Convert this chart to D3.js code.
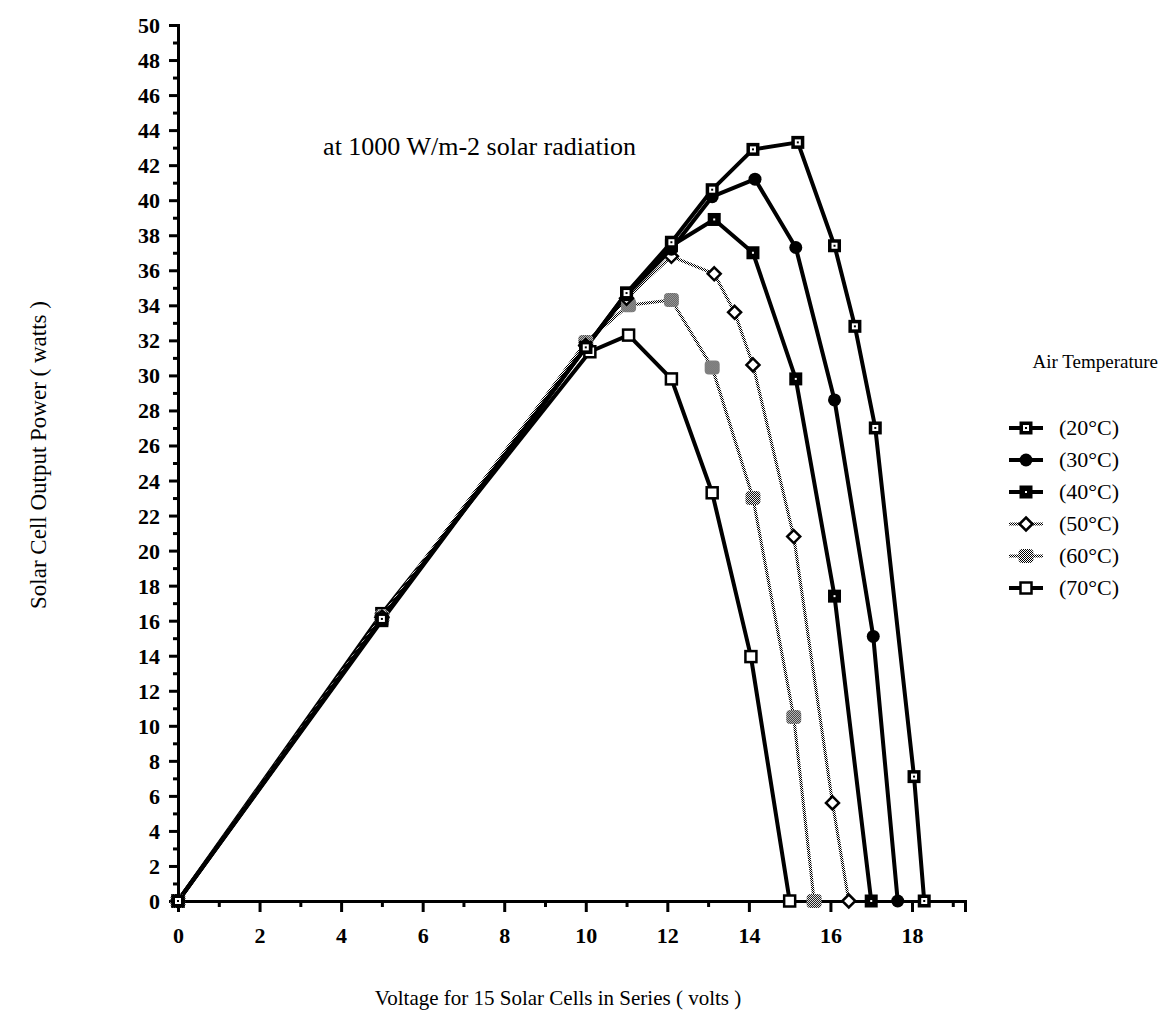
<!DOCTYPE html>
<html>
<head>
<meta charset="utf-8">
<script src="https://cdn.jsdelivr.net/npm/d3@7"></script>
<style>
  body { margin: 0; background: #fff; }
  text { font-family: "Liberation Serif", "DejaVu Serif", serif; fill: #000; }
</style>
</head>
<body>
<div id="chart"></div>
<script>
'use strict';

// readings (volts, watts)
var volts20 = [0, 5, 10, 11, 12.1, 13.1, 14.1, 15.2, 16.1, 16.6, 17.1, 18.05, 18.3];
var watts20 = [0, 16.1, 31.6, 34.7, 37.6, 40.6, 42.9, 43.3, 37.4, 32.8, 27.0, 7.1, 0];
var volts30 = [0, 5, 10, 11, 12.1, 13.1, 14.15, 15.15, 16.1, 17.05, 17.65];
var watts30 = [0, 16.1, 31.6, 34.6, 37.2, 40.2, 41.2, 37.3, 28.6, 15.1, 0];
var volts40 = [0, 5, 10, 11, 12.1, 13.15, 14.1, 15.15, 16.1, 17.0];
var watts40 = [0, 16.0, 31.6, 34.7, 37.4, 38.9, 37.0, 29.8, 17.4, 0];
var volts50 = [0, 5, 10, 11, 12.1, 13.15, 13.65, 14.1, 15.1, 16.05, 16.45];
var watts50 = [0, 16.2, 31.7, 34.4, 36.8, 35.8, 33.6, 30.6, 20.8, 5.6, 0];
var volts60 = [0, 5, 10, 11.05, 12.1, 13.1, 14.1, 15.1, 15.6];
var watts60 = [0, 16.2, 31.9, 34.0, 34.3, 30.45, 23.0, 10.5, 0];
var volts70 = [0, 5, 10.1, 11.05, 12.1, 13.1, 14.05, 15.0];
var watts70 = [0, 16.4, 31.35, 32.3, 29.8, 23.3, 13.95, 0];

var seriesLabels = ["(20°C)", "(30°C)", "(40°C)", "(50°C)", "(60°C)", "(70°C)"];
var xTickValues = [0, 2, 4, 6, 8, 10, 12, 14, 16, 18];
var yTickValues = d3.range(0, 51, 2);

var svgWidth = 1162;
var svgHeight = 1015;

var svg = d3.select("#chart").append("svg")
    .attr("width", svgWidth)
    .attr("height", svgHeight);

// dither pattern for the grey (50/60) curves
var defs = svg.append("defs");
var pat = defs.append("pattern")
    .attr("id", "dither")
    .attr("width", 2).attr("height", 2)
    .attr("patternUnits", "userSpaceOnUse");
pat.append("rect").attr("width", 2).attr("height", 2).attr("fill", "#fff");
pat.append("rect").attr("width", 1).attr("height", 1).attr("fill", "#000");
pat.append("rect").attr("x", 1).attr("y", 1).attr("width", 1).attr("height", 1).attr("fill", "#000");

var x = d3.scaleLinear().domain([0, 19.3]).range([178, 965]);
var y = d3.scaleLinear().domain([0, 50]).range([901, 25]);

var series = [
  {label: seriesLabels[0], v: volts20, w: watts20, marker: "sqDot", grey: false},
  {label: seriesLabels[1], v: volts30, w: watts30, marker: "circle", grey: false},
  {label: seriesLabels[2], v: volts40, w: watts40, marker: "sqFill", grey: false},
  {label: seriesLabels[3], v: volts50, w: watts50, marker: "diamond", grey: true},
  {label: seriesLabels[4], v: volts60, w: watts60, marker: "hatch", grey: true},
  {label: seriesLabels[5], v: volts70, w: watts70, marker: "open", grey: false}
];

function drawMarker(g, type, cx, cy) {
  var m = g.append("g").attr("transform", "translate(" + cx + "," + cy + ")");
  if (type == "sqDot") {
    m.append("rect").attr("x", -6.5).attr("y", -6.5).attr("width", 13).attr("height", 13).attr("fill", "#000");
    m.append("rect").attr("x", -3).attr("y", -3).attr("width", 6).attr("height", 6).attr("fill", "#fff");
    m.append("rect").attr("x", -1).attr("y", -1).attr("width", 2).attr("height", 2).attr("fill", "#000");
  } else if (type == "circle") {
    m.append("circle").attr("r", 6.5).attr("fill", "#000");
  } else if (type == "sqFill") {
    m.append("rect").attr("x", -6.5).attr("y", -6.5).attr("width", 13).attr("height", 13).attr("fill", "#000");
    m.append("rect").attr("x", -1).attr("y", -1).attr("width", 2).attr("height", 2).attr("fill", "#fff");
  } else if (type == "diamond") {
    m.append("path").attr("d", "M0,-6.5L6.5,0L0,6.5L-6.5,0Z")
      .attr("fill", "#fff").attr("stroke", "#000").attr("stroke-width", 2.5);
  } else if (type == "hatch") {
    m.append("rect").attr("x", -7.5).attr("y", -7).attr("width", 15).attr("height", 14)
      .attr("rx", 4).attr("fill", "url(#dither)");
  } else {
    m.append("rect").attr("x", -5.5).attr("y", -5.5).attr("width", 11).attr("height", 11)
      .attr("fill", "#fff").attr("stroke", "#000").attr("stroke-width", 2.5);
  }
}

var line = d3.line()
    .x(function(d) { return x(d[0]); })
    .y(function(d) { return y(d[1]); });

// curves
var curves = svg.append("g");
series.slice().reverse().forEach(function(s) {
  var pts = s.v.map(function(v, i) { return [v, s.w[i]]; });
  curves.append("path")
      .datum(pts)
      .attr("fill", "none")
      .attr("stroke", s.grey ? "url(#dither)" : "#000")
      .attr("stroke-width", s.grey ? 3 : 4)
      .attr("stroke-linejoin", "round")
      .attr("d", line);
});

// axes
var xAxis = svg.append("g")
    .attr("transform", "translate(0," + y(0) + ")")
    .call(d3.axisBottom(x).tickValues(xTickValues).tickSize(11).tickFormat(d3.format("d")));
svg.append("g")
    .attr("transform", "translate(0," + y(0) + ")")
    .call(d3.axisBottom(x).tickValues(d3.range(1, 20, 2)).tickSize(6).tickFormat(""))
    .select(".domain").remove();

var yAxis = svg.append("g")
    .attr("transform", "translate(" + x(0) + ",0)")
    .call(d3.axisLeft(y).tickValues(yTickValues).tickSize(9).tickFormat(d3.format("d")));
svg.append("g")
    .attr("transform", "translate(" + x(0) + ",0)")
    .call(d3.axisLeft(y).tickValues(d3.range(1, 50, 2)).tickSize(5).tickFormat(""))
    .select(".domain").remove();

svg.selectAll(".domain").attr("stroke", "#000").attr("stroke-width", 3);
svg.selectAll(".tick line").attr("stroke", "#000").attr("stroke-width", 3);
xAxis.selectAll("text")
    .attr("font-size", 22).attr("font-weight", "bold")
    .attr("font-family", "Liberation Serif")
    .attr("y", 42).attr("dy", 0);
yAxis.selectAll("text")
    .attr("font-size", 22).attr("font-weight", "bold")
    .attr("font-family", "Liberation Serif")
    .attr("x", -18).attr("dy", "0.34em");

// markers on top
var marks = svg.append("g");
series.slice().reverse().forEach(function(s) {
  s.v.forEach(function(v, i) {
    drawMarker(marks, s.marker, x(v), y(s.w[i]));
  });
});

// texts
svg.append("text")
    .attr("x", 636).attr("y", 155)
    .attr("text-anchor", "end")
    .attr("font-size", 26)
    .text("at 1000 W/m-2 solar radiation");

svg.append("text")
    .attr("transform", "translate(46,455) rotate(-90)")
    .attr("text-anchor", "middle")
    .attr("font-size", 23)
    .text("Solar Cell Output Power ( watts )");

svg.append("text")
    .attr("x", 558).attr("y", 1005)
    .attr("text-anchor", "middle")
    .attr("font-size", 21)
    .text("Voltage for 15 Solar Cells in Series ( volts )");

// legend
var legend = svg.append("g");
legend.append("text")
    .attr("x", 1158).attr("y", 368)
    .attr("text-anchor", "end")
    .attr("font-size", 19)
    .text("Air Temperature");

series.forEach(function(s, i) {
  var ly = 428 + i * 32;
  legend.append("line")
      .attr("x1", 1009).attr("x2", 1043)
      .attr("y1", ly).attr("y2", ly)
      .attr("stroke", s.grey ? "url(#dither)" : "#000")
      .attr("stroke-width", s.grey ? 3 : 4);
  drawMarker(legend, s.marker, 1026, ly);
  legend.append("text")
      .attr("x", 1059).attr("y", ly + 7)
      .attr("font-size", 22)
      .text(s.label);
});
</script>
</body>
</html>
